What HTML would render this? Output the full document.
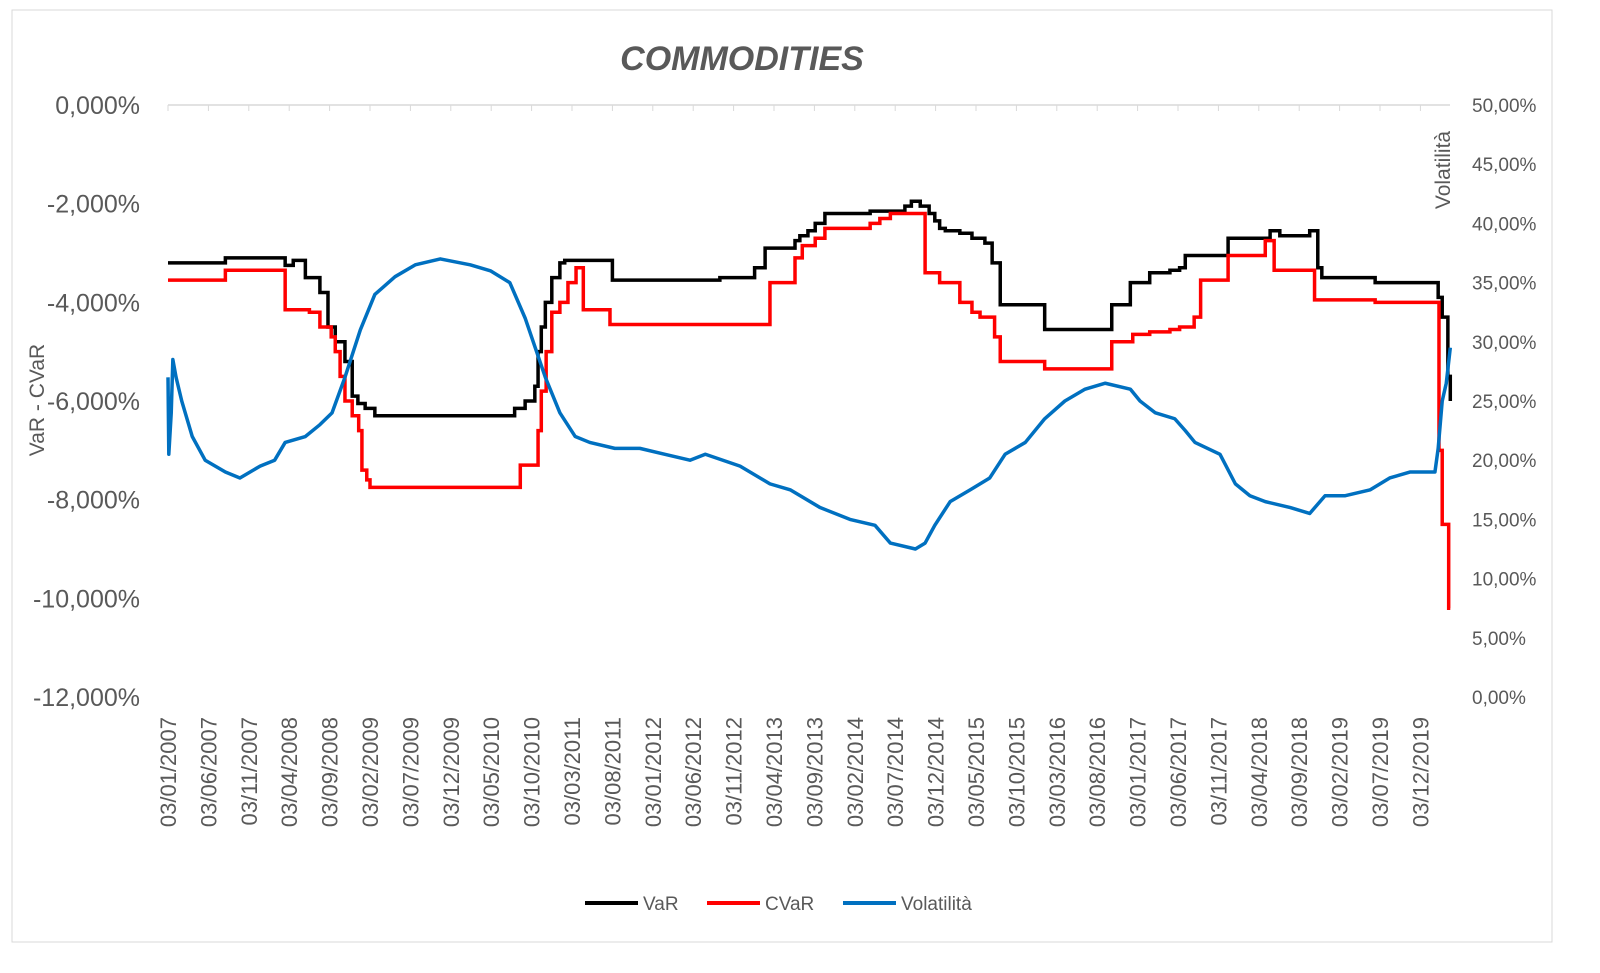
<!DOCTYPE html>
<html><head><meta charset="utf-8"><style>
body{margin:0;background:#fff;}
svg{display:block;font-family:"Liberation Sans",sans-serif;}
</style></head><body>
<svg id="chart" width="1600" height="973">
<rect x="12" y="10" width="1540" height="932" fill="#fff" stroke="#d9d9d9"/>
<text x="742" y="70" text-anchor="middle" font-size="34" font-weight="bold" font-style="italic" fill="#595959">COMMODITIES</text>
<text transform="translate(44,400) rotate(-90)" text-anchor="middle" font-size="21" fill="#595959">VaR - CVaR</text>
<text transform="translate(1450,170) rotate(-90)" text-anchor="middle" font-size="21" fill="#595959">Volatilità</text>
<g id="axes"></g><g id="series"></g>
<g>
<line x1="585" y1="903" x2="638" y2="903" stroke="#000" stroke-width="4"/><text x="643" y="910" font-size="19" fill="#595959">VaR</text>
<line x1="707" y1="903" x2="760" y2="903" stroke="#ff0000" stroke-width="4"/><text x="765" y="910" font-size="19" fill="#595959">CVaR</text>
<line x1="843" y1="903" x2="896" y2="903" stroke="#0070c0" stroke-width="4"/><text x="901" y="910" font-size="19" fill="#595959">Volatilità</text>
</g>
</svg>
<script>
const varMonths=[0,7.1,14.5,15.5,17,18.8,19.8,20.7,21.9,22.8,23.5,24.4,25.6,42.9,44.2,45.4,45.8,46.2,46.7,47.5,48.5,49.1,55,68.3,72.6,73.9,77.6,78.2,79.2,80.1,81.3,86.9,91.2,92,93.1,94.2,94.9,95.5,96.2,98,99.5,101.1,102,103,108.5,116.8,119.1,121.5,124,125.2,125.9,131.2,136.4,137.6,141.3,142.3,142.8,149.4,157.2,157.7,158.4,158.7];
const varValues=[-3.2,-3.1,-3.25,-3.15,-3.5,-3.8,-4.5,-4.8,-5.2,-5.9,-6.05,-6.15,-6.3,-6.15,-6.0,-5.7,-5.0,-4.5,-4.0,-3.5,-3.2,-3.15,-3.55,-3.5,-3.3,-2.9,-2.75,-2.65,-2.55,-2.4,-2.2,-2.15,-2.05,-1.95,-2.05,-2.2,-2.35,-2.5,-2.55,-2.6,-2.7,-2.8,-3.2,-4.05,-4.55,-4.05,-3.6,-3.4,-3.35,-3.3,-3.05,-2.7,-2.55,-2.65,-2.55,-3.3,-3.5,-3.6,-3.9,-4.3,-5.5,-6.0];
const cvarMonths=[0,7.1,14.5,17.5,18.8,20.2,20.7,21.3,21.9,22.8,23.6,24,24.6,25,43.6,45.8,46.2,46.8,47.5,48.5,49.5,50.5,51.4,54.7,74.5,77.6,78.5,80.1,81.3,86.9,88.1,89.4,93.7,95.5,98,99.5,100.5,102.3,103,108.5,116.8,119.4,121.5,124,125.2,127,127.8,131.2,135.8,136.9,141.9,149.4,157.3,157.7,158.5,158.7];
const cvarValues=[-3.55,-3.35,-4.15,-4.2,-4.5,-4.7,-5.0,-5.5,-6.0,-6.3,-6.6,-7.4,-7.6,-7.75,-7.3,-6.6,-5.8,-5.0,-4.2,-4.0,-3.6,-3.3,-4.15,-4.45,-3.6,-3.1,-2.85,-2.7,-2.5,-2.4,-2.3,-2.2,-3.4,-3.6,-4.0,-4.2,-4.3,-4.7,-5.2,-5.35,-4.8,-4.65,-4.6,-4.55,-4.5,-4.3,-3.55,-3.05,-2.75,-3.35,-3.95,-4.0,-7.0,-8.5,-10.2,-10.2];
const volMonths=[0,0.1,0.4,0.6,1,1.7,3,4.6,7.1,8.9,11.4,13.2,14.5,17,18.8,20.3,21.9,23.8,25.6,28.1,30.6,33.7,37.4,39.9,42.3,44.2,46.7,48.5,50.4,52.2,55.3,58.4,61.5,64.6,66.5,70.8,74.5,77,80.7,84.4,87.5,89.4,92.5,93.7,94.9,96.8,99.3,101.7,103.6,106.1,108.5,111,113.5,116,119.1,120.3,122.2,124.6,125.9,127.1,130.2,132.1,133.9,135.8,138.9,141.3,143.2,145.7,148.8,151.2,153.7,156.8,157.2,157.7,158.2,158.7];
const volValues=[27,20.5,24,28.5,27,25,22,20,19,18.5,19.5,20,21.5,22,23,24,27,31,34,35.5,36.5,37,36.5,36,35,32,27,24,22,21.5,21,21,20.5,20,20.5,19.5,18,17.5,16,15,14.5,13,12.5,13,14.5,16.5,17.5,18.5,20.5,21.5,23.5,25,26,26.5,26,25,24,23.5,22.5,21.5,20.5,18,17,16.5,16,15.5,17,17,17.5,18.5,19,19,21,25,26.5,29.5];
const leftTicks=["0,000%","-2,000%","-4,000%","-6,000%","-8,000%","-10,000%","-12,000%"];
const rightTicks=["50,00%","45,00%","40,00%","35,00%","30,00%","25,00%","20,00%","15,00%","10,00%","5,00%","0,00%"];
const NS="http://www.w3.org/2000/svg";
const X0=168,PXM=8.08,YT=105,YB=697;
const xs=m=>X0+m*PXM;
const yl=v=>YT+(-v/12)*(YB-YT);
const yr=v=>YB-(v/50)*(YB-YT);
const axes=document.getElementById('axes'),ser=document.getElementById('series');
function mk(tag,attrs,parent){const e=document.createElementNS(NS,tag);for(const k in attrs)e.setAttribute(k,attrs[k]);parent.appendChild(e);return e;}
const grid=mk('line',{x1:X0,y1:YT,x2:1450,y2:YT,stroke:'#d9d9d9','stroke-width':1.5},axes);


leftTicks.forEach((t,i)=>{const e=mk('text',{x:140,y:YT+i*(YB-YT)/6+9,'text-anchor':'end','font-size':25,fill:'#595959'},axes);e.textContent=t;

});
rightTicks.forEach((t,i)=>{const e=mk('text',{x:1472,y:YT+i*(YB-YT)/10+7,'font-size':19,fill:'#595959'},axes);e.textContent=t;

});
for(let m=0;m<=155;m+=5){const yr_=2007+Math.floor(m/12),mo=m%12+1;const lab='03/'+String(mo).padStart(2,'0')+'/'+yr_;
const x=xs(m);mk('line',{x1:x,y1:YT,x2:x,y2:YT+6,stroke:'#d9d9d9'},axes);
const e=mk('text',{transform:`translate(${x+8},${YT+612}) rotate(-90)`,'text-anchor':'end','font-size':22,fill:'#595959'},axes);e.textContent=lab;

}
function stepPath(ms,vs){let d='';for(let i=0;i<ms.length;i++){const x=xs(ms[i]),y=yl(vs[i]);if(i===0)d+=`M${x},${y}`;else d+=`H${x}V${y}`;}
return d+`H${xs(ms[ms.length-1])}`;}
const pv=mk('path',{d:stepPath(varMonths,varValues),fill:'none',stroke:'#000','stroke-width':3.5},ser);


const pc=mk('path',{d:stepPath(cvarMonths,cvarValues),fill:'none',stroke:'#ff0000','stroke-width':3.5},ser);


const pts=volMonths.map((m,i)=>xs(m)+','+yr(volValues[i])).join(' ');
const pl=mk('polyline',{points:pts,fill:'none',stroke:'#0070c0','stroke-width':3.5,'stroke-linejoin':'round'},ser);


</script>
</body></html>
